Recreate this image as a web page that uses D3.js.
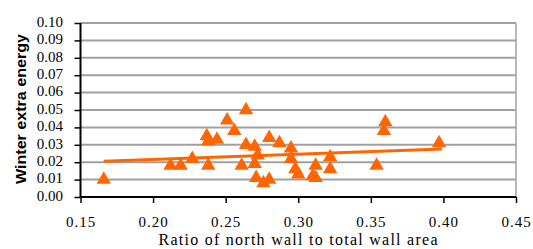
<!DOCTYPE html>
<html>
<head>
<meta charset="utf-8">
<script src="https://cdn.jsdelivr.net/npm/d3@7"></script>
<style>
body { margin: 0; background: #fff; }
</style>
</head>
<body>
<div id="chart"></div>
<script>
// data
var ratioVals = [0.166, 0.212, 0.219, 0.227, 0.237, 0.238, 0.238, 0.244, 0.251, 0.256,
                 0.261, 0.264, 0.264, 0.270, 0.270, 0.272, 0.271, 0.276, 0.280, 0.280,
                 0.287, 0.295, 0.295, 0.298, 0.300, 0.312, 0.310, 0.312, 0.322, 0.322,
                 0.354, 0.359, 0.360, 0.397];
var energyVals = [0.010, 0.018, 0.018, 0.022, 0.035, 0.032, 0.018, 0.033, 0.044, 0.038,
                  0.018, 0.050, 0.030, 0.029, 0.019, 0.024, 0.011, 0.008, 0.010, 0.034,
                  0.031, 0.028, 0.022, 0.016, 0.013, 0.018, 0.012, 0.011, 0.023, 0.016,
                  0.018, 0.038, 0.043, 0.031];
var trendX = [0.166, 0.399];
var trendY = [0.0206, 0.0276];
var xTicks = [0.15, 0.20, 0.25, 0.30, 0.35, 0.40, 0.45];
var yTicks = [0.00, 0.01, 0.02, 0.03, 0.04, 0.05, 0.06, 0.07, 0.08, 0.09, 0.10];

var width = 533, height = 249;
var plotLeft = 80.5, plotRight = 516, plotTop = 23, plotBottom = 197;
var orange = "#ff6600";
var serif = "'Liberation Serif', 'Times New Roman', serif";

var svg = d3.select("#chart").append("svg")
    .attr("width", width)
    .attr("height", height);

var x = d3.scaleLinear().domain([0.15, 0.45]).range([plotLeft, plotRight]);
var y = d3.scaleLinear().domain([0, 0.10]).range([plotBottom, plotTop]);

// gridlines
svg.append("g")
    .selectAll("line")
    .data(yTicks.slice(1))
    .enter()
    .append("line")
    .attr("x1", plotLeft)
    .attr("x2", plotRight)
    .attr("y1", function (d) { return y(d); })
    .attr("y2", function (d) { return y(d); })
    .attr("stroke", "#a0a0a0")
    .attr("stroke-width", 2);

// right border of plot
svg.append("line")
    .attr("x1", plotRight).attr("x2", plotRight)
    .attr("y1", plotTop).attr("y2", plotBottom)
    .attr("stroke", "#a0a0a0")
    .attr("stroke-width", 1.5);

// axes
var yAxis = svg.append("g")
    .attr("transform", "translate(" + plotLeft + ",0)")
    .call(d3.axisLeft(y).tickValues(yTicks).tickFormat(d3.format(".2f")).tickSize(6).tickPadding(11.5));
var xAxis = svg.append("g")
    .attr("transform", "translate(0," + plotBottom + ")")
    .call(d3.axisBottom(x).tickValues(xTicks).tickFormat(d3.format(".2f")).tickSize(6).tickPadding(13));

[yAxis, xAxis].forEach(function (ax) {
    ax.attr("font-family", serif);
    ax.select(".domain").attr("stroke", "#000").attr("stroke-width", 2);
    ax.selectAll(".tick line").attr("stroke", "#000").attr("stroke-width", 1.5);
    ax.selectAll("text")
        .style("font-family", serif)
        .style("font-size", "15px")
        .attr("fill", "#000");
});
yAxis.selectAll("text").attr("dy", "0.22em");
xAxis.selectAll("text").style("letter-spacing", "1px");
yAxis.select(".domain").attr("d", "M0," + plotTop + "V" + plotBottom);
xAxis.select(".domain").attr("d", "M" + plotLeft + ",0H" + plotRight);

// trendline
svg.append("line")
    .attr("x1", x(trendX[0]))
    .attr("y1", y(trendY[0]))
    .attr("x2", x(trendX[1]))
    .attr("y2", y(trendY[1]))
    .attr("stroke", orange)
    .attr("stroke-width", 3);

// markers
var tri = d3.symbol().type(d3.symbolTriangle).size(90);
svg.append("g")
    .selectAll("path")
    .data(ratioVals)
    .enter()
    .append("path")
    .attr("d", tri)
    .attr("transform", function (d, i) {
        return "translate(" + x(d) + "," + y(energyVals[i]) + ")";
    })
    .attr("fill", orange);

// titles
svg.append("text")
    .attr("transform", "translate(26,109) rotate(-90)")
    .attr("text-anchor", "middle")
    .attr("textLength", 150)
    .attr("lengthAdjust", "spacingAndGlyphs")
    .style("font-family", "'Liberation Sans', Arial, sans-serif")
    .style("font-size", "15px")
    .style("font-weight", "bold")
    .attr("fill", "#000")
    .text("Winter extra energy");

svg.append("text")
    .attr("x", 298)
    .attr("y", 245)
    .attr("text-anchor", "middle")
    .attr("textLength", 279)
    .attr("lengthAdjust", "spacing")
    .style("font-family", serif)
    .style("font-size", "16px")
    .attr("fill", "#000")
    .text("Ratio of north wall to total wall area");
</script>
</body>
</html>
